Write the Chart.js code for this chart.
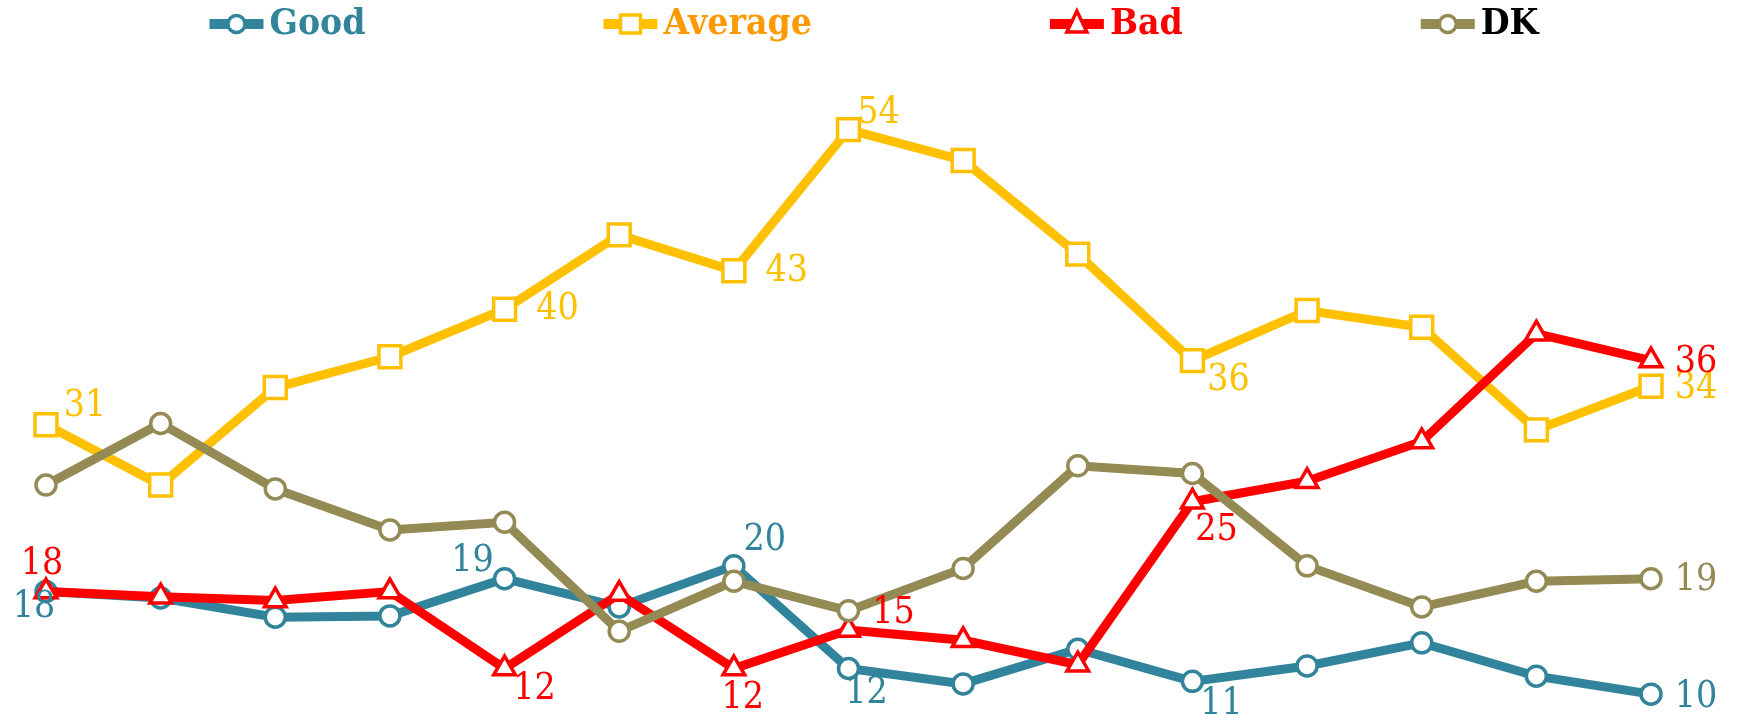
<!DOCTYPE html>
<html>
<head>
<meta charset="utf-8">
<script src="https://cdn.jsdelivr.net/npm/chart.js@4.4.0/dist/chart.umd.min.js"></script>
<style>
  html, body { margin: 0; padding: 0; background: #fff; }
  #wrap { width: 1748px; height: 726px; position: relative; }
</style>
</head>
<body>
<div id="wrap"><canvas id="chart"></canvas></div>
<script>
'use strict';

// ─── Data ────────────────────────────────────────────────────────────────────
const periods = ['1', '2', '3', '4', '5', '6', '7', '8', '9', '10', '11', '12', '13', '14', '15'];
const good    = [18, 17.5, 16, 16.1, 19, 16.8, 20, 12, 10.8, 13.5, 11, 12.2, 14, 11.4, 10];
const average = [31, 26.3, 33.9, 36.3, 40, 45.8, 43, 54, 51.6, 44.3, 36, 39.9, 38.6, 30.6, 34];
const bad     = [18, 17.6, 17.3, 18, 12, 17.8, 12, 15, 14.2, 12.3, 25, 26.6, 29.7, 38.1, 36];
const dk      = [26.3, 31.1, 26, 22.8, 23.4, 14.9, 18.8, 16.5, 19.8, 27.8, 27.2, 20, 16.8, 18.8, 19];

// ─── Styles ──────────────────────────────────────────────────────────────────
const COLORS = {
  Good:    '#31849B',
  Average: '#FFC000',
  Bad:     '#FF0000',
  DK:      '#948A54',
};
const LEGEND_TEXT = {
  Good:    '#31849B',
  Average: '#FF9900',
  Bad:     '#FF0000',
  DK:      '#000000',
};
const SERIF = '"DejaVu Serif", "Liberation Serif", serif';

// Points that carry a value label: index -> [dx, dy] offset from the point
const labelSpots = {
  Good:    { 0: [-12, 16], 4: [-32, -18], 6: [31, -26], 7: [18, 25], 10: [29, 23], 14: [45, 3] },
  Average: { 0: [39, -19], 4: [53, 0], 6: [53, 0], 7: [30, -17], 10: [36, 20], 14: [45, 2] },
  Bad:     { 0: [-4, -27], 4: [30, 21], 6: [9, 30], 7: [45, -17], 10: [24, 28], 14: [45, 2] },
  DK:      { 14: [45, 1] },
};

// ─── Narrow serif text (canvas has no Cambria) ───────────────────────────────
function fillNarrow(ctx, text, x, y, squeeze) {
  ctx.save();
  ctx.translate(x, y);
  ctx.scale(squeeze, 1);
  ctx.fillText(text, 0, 0);
  ctx.restore();
}

// ─── Marker drawing (legend) ─────────────────────────────────────────────────
function drawMarker(ctx, style, x, y, color) {
  ctx.save();
  ctx.fillStyle = '#fff';
  ctx.strokeStyle = color;
  ctx.lineWidth = 3.5;
  ctx.beginPath();
  if (style === 'circle') {
    ctx.arc(x, y, 8.5, 0, Math.PI * 2);
  } else if (style === 'rect') {
    ctx.rect(x - 10, y - 9, 20, 18);
  } else {
    ctx.moveTo(x, y - 13);
    ctx.lineTo(x + 10, y + 8);
    ctx.lineTo(x - 10, y + 8);
    ctx.closePath();
  }
  ctx.fill();
  ctx.stroke();
  ctx.restore();
}

// ─── Custom legend: line + marker, coloured text, wide gaps ──────────────────
const topLegend = {
  id: 'topLegend',
  afterDraw(chart) {
    const ctx = chart.ctx;
    const sets = chart.data.datasets;
    const markW = 54, textGap = 6, itemGap = 238, cy = 24, squeeze = 0.95;

    ctx.save();
    ctx.font = 'bold 35px ' + SERIF;
    const widths = sets.map(ds => markW + textGap + ctx.measureText(ds.label).width * squeeze);
    const total = widths.reduce((a, b) => a + b, 0) + itemGap * (sets.length - 1);
    let x = (chart.width - total) / 2;

    sets.forEach((ds, i) => {
      ctx.strokeStyle = ds.borderColor;
      ctx.lineWidth = 10;
      ctx.beginPath();
      ctx.moveTo(x, cy);
      ctx.lineTo(x + markW, cy);
      ctx.stroke();
      drawMarker(ctx, ds.pointStyle, x + markW / 2, cy, ds.borderColor);

      ctx.fillStyle = LEGEND_TEXT[ds.label];
      ctx.textAlign = 'left';
      ctx.textBaseline = 'middle';
      fillNarrow(ctx, ds.label, x + markW + textGap, cy + 1, squeeze);
      x += widths[i] + itemGap;
    });
    ctx.restore();
  },
};

// ─── Value labels next to selected points ────────────────────────────────────
const valueLabels = {
  id: 'valueLabels',
  afterDatasetsDraw(chart) {
    const ctx = chart.ctx;
    ctx.save();
    ctx.font = '38px ' + SERIF;
    ctx.textAlign = 'center';
    ctx.textBaseline = 'middle';
    chart.data.datasets.forEach((ds, di) => {
      const spots = labelSpots[ds.label] || {};
      const meta = chart.getDatasetMeta(di);
      Object.keys(spots).forEach(k => {
        const pt = meta.data[k];
        if (!pt) return;
        const [dx, dy] = spots[k];
        ctx.fillStyle = ds.borderColor;
        fillNarrow(ctx, String(Math.round(ds.data[k])), pt.x + dx, pt.y + dy, 0.88);
      });
    });
    ctx.restore();
  },
};

function makeSeries(label, values, pointStyle, radius, order) {
  return {
    label,
    data:                 values,
    borderColor:          COLORS[label],
    borderWidth:          9,
    pointStyle,
    pointRadius:          radius,
    pointBorderWidth:     3.5,
    pointBackgroundColor: '#fff',
    pointBorderColor:     COLORS[label],
    tension:              0,
    order,
    clip:                 false,
  };
}

new Chart(document.getElementById('chart'), {
  type: 'line',
  data: {
    labels: periods,
    datasets: [
      makeSeries('Good',    good,    'circle',   10,   4),
      makeSeries('Average', average, 'rect',     15.5, 3),
      makeSeries('Bad',     bad,     'triangle', 12.5, 2),
      makeSeries('DK',      dk,      'circle',   10,   1),
    ],
  },
  options: {
    animation:           false,
    responsive:          true,
    maintainAspectRatio: false,
    layout: { padding: { left: 46, right: 97, top: 104, bottom: 10 } },
    plugins: {
      legend:  { display: false },
      tooltip: { enabled: false },
    },
    scales: {
      x: { display: false },
      y: { display: false, min: 9, max: 56 },
    },
  },
  plugins: [valueLabels, topLegend],
});
</script>
</body>
</html>
